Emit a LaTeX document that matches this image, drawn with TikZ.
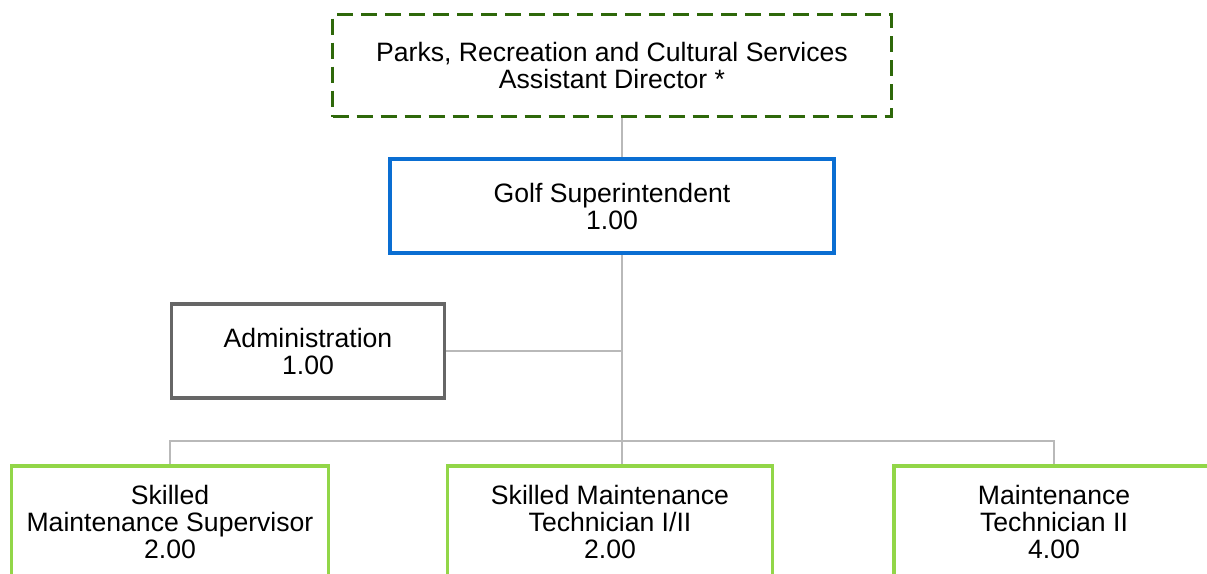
\documentclass[tikz,border=0pt]{standalone}
\usepackage{fontspec}
\setmainfont{Liberation Sans}
\definecolor{dirgreen}{RGB}{46,104,10}
\definecolor{supblue}{RGB}{10,110,210}
\definecolor{admgray}{RGB}{102,102,102}
\definecolor{staffgreen}{RGB}{146,214,72}
\definecolor{linkgray}{RGB}{185,185,185}
\begin{document}
\begin{tikzpicture}[x=1pt,y=-1pt,
  unit/.style={draw, line width=3.5pt, fill=white, align=center, inner sep=0pt,
    font=\fontsize{26.6}{27}\selectfont},
  link/.style={draw=linkgray, line width=2.2pt}]
\useasboundingbox (0,0) rectangle (1207,573);
\clip (0,0) rectangle (1207,573);

\node[unit, draw=dirgreen, dash pattern=on 16pt off 8pt, minimum width=559pt, minimum height=102pt]
  (director) at (612,65.5) {Parks, Recreation and Cultural Services\\Assistant Director *};
\node[unit, draw=supblue, minimum width=444pt, minimum height=94pt]
  (golf) at (612,206) {Golf Superintendent\\1.00};
\node[unit, draw=admgray, minimum width=273pt, minimum height=94pt]
  (admin) at (308,351) {Administration\\1.00};

% staff row (bottom edges run off the page)
\node[unit, draw=staffgreen, minimum width=317pt, minimum height=112pt]
  (supervisor) at (170,522) {Skilled\\Maintenance Supervisor\\2.00};
\node[unit, draw=staffgreen, minimum width=325pt, minimum height=112pt]
  (skilled) at (610,522) {Skilled Maintenance\\Technician I/II\\2.00};
\node[unit, draw=staffgreen, minimum width=320pt, minimum height=112pt]
  (tech) at (1054,522) {Maintenance\\Technician II\\4.00};

\coordinate (spine) at (622,351);
\coordinate (bus) at (622,441);

\draw[link] (director.south -| spine) -- (golf.north -| spine);
\draw[link] (golf.south -| spine) -- (skilled.north -| spine);
\draw[link] (admin.east) -- (admin.east -| spine);
\draw[link] (supervisor.north) -- (supervisor.north |- bus) -- (tech.north |- bus) -- (tech.north);

\end{tikzpicture}
\end{document}
